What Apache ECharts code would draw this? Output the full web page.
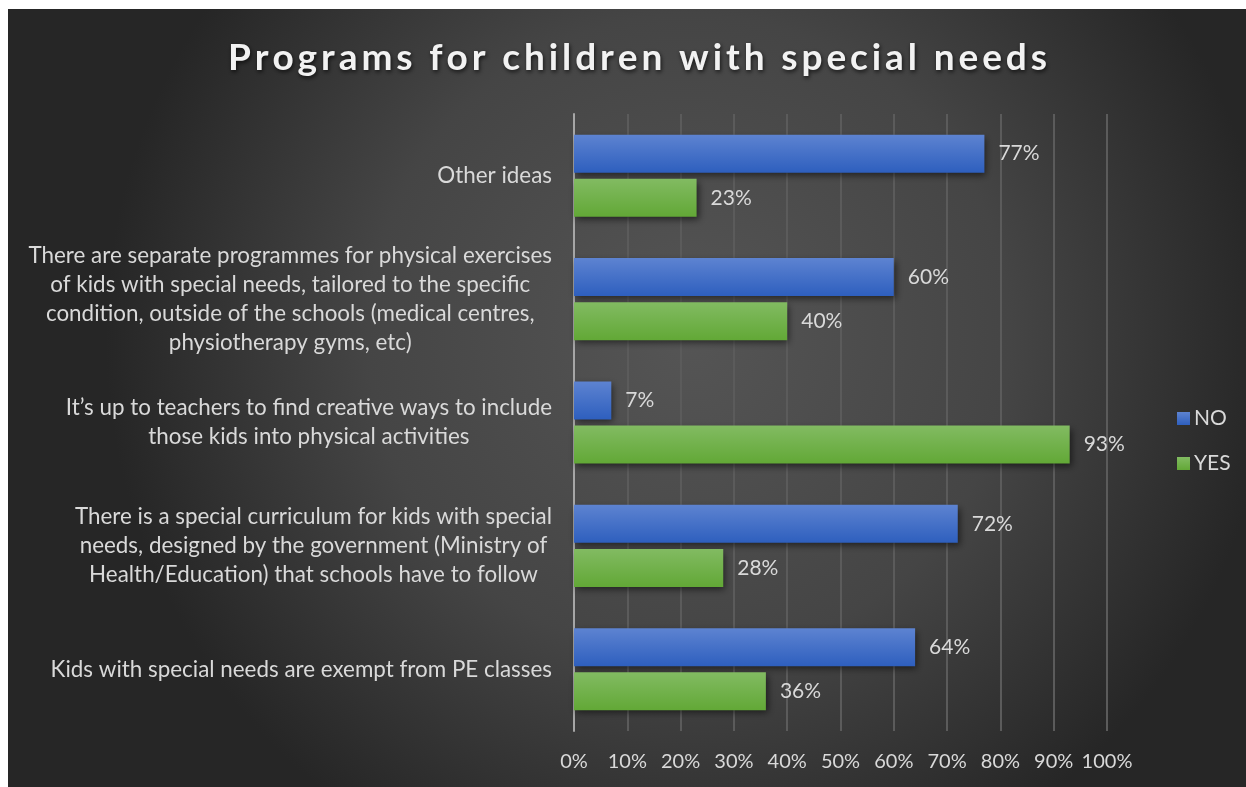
<!DOCTYPE html>
<html>
<head>
<meta charset="utf-8">
<script src="https://cdn.jsdelivr.net/npm/echarts@6/dist/echarts.min.js"></script>
<style>
  html, body { margin: 0; padding: 0; background: #ffffff; }
  #chart { position: absolute; left: 8px; top: 9px; width: 1238px; height: 778px; }
</style>
</head>
<body>
<div id="chart"></div>
<script>
// Survey answers, listed bottom-to-top as drawn on the category axis
const categories = [
  'Kids with special needs are exempt from PE classes',
  'There is a special curriculum for kids with special\nneeds, designed by the government (Ministry of\nHealth/Education) that schools have to follow',
  'It\u2019s up to teachers to find creative ways to include\nthose kids into physical activities',
  'There are separate programmes for physical exercises\nof kids with special needs, tailored to the specific\ncondition, outside of the schools (medical centres,\nphysiotherapy gyms, etc)',
  'Other ideas'
];
const noValues = [64, 72, 7, 60, 77];
const yesValues = [36, 28, 93, 40, 23];
const seriesNames = ['NO', 'YES'];
const chartTitle = 'Programs for children with special needs';

const textColor = '#d9d9d9';
const font = 'Lato, "Open Sans", sans-serif';

function barGradient(top, bottom) {
  return new echarts.graphic.LinearGradient(0, 0, 0, 1, [
    { offset: 0, color: top },
    { offset: 1, color: bottom }
  ]);
}

// Title is spread out letter by letter: each character is its own rich token with side padding
const spacedTitle = Array.from(chartTitle).map(ch => '{t|' + ch + '}').join('');

const labelStyle = {
  show: true,
  position: 'right',
  distance: 14,
  color: textColor,
  fontSize: 21,
  fontFamily: font,
  formatter: p => p.value + '%'
};

const chart = echarts.init(document.getElementById('chart'));
chart.setOption({
  backgroundColor: new echarts.graphic.RadialGradient(0.55, 0.42, 0.75, [
    { offset: 0, color: '#555555' },
    { offset: 0.55, color: '#454545' },
    { offset: 1, color: '#262626' }
  ]),
  title: {
    text: spacedTitle,
    left: 218,
    top: 31,
    padding: 0,
    textStyle: {
      rich: {
        t: {
          color: '#f2f2f2',
          fontSize: 37,
          fontWeight: 'bold',
          fontFamily: font,
          padding: [0, 1.95],
          textShadowColor: 'rgba(0,0,0,0.7)',
          textShadowBlur: 4,
          textShadowOffsetX: 1,
          textShadowOffsetY: 2
        }
      }
    }
  },
  legend: {
    orient: 'vertical',
    left: 1169,
    top: 399,
    padding: 0,
    itemWidth: 13,
    itemHeight: 13,
    itemGap: 24,
    icon: 'rect',
    textStyle: { color: textColor, fontSize: 21, fontFamily: font, padding: [0, 0, 0, -1] },
    data: seriesNames
  },
  grid: { left: 566, right: 139, top: 105, bottom: 56, containLabel: false },
  xAxis: {
    type: 'value',
    min: 0,
    max: 100,
    interval: 10,
    axisLine: { show: false },
    axisTick: { show: false },
    splitLine: { show: true, lineStyle: { color: '#5b5b5b', width: 2 } },
    axisLabel: {
      color: textColor,
      fontSize: 20,
      fontFamily: font,
      margin: 21,
      formatter: v => v + '%'
    }
  },
  yAxis: {
    type: 'category',
    data: categories,
    axisLine: { show: true, lineStyle: { color: '#a6a6a6', width: 2 } },
    axisTick: { show: false },
    axisLabel: {
      margin: 22,
      formatter: v => v.split('\n').map(s => '{c|' + s + '}').join('\n'),
      rich: {
        c: { align: 'center', color: textColor, fontSize: 22.4, fontFamily: font, lineHeight: 29 }
      }
    }
  },
  series: [
    {
      name: seriesNames[0],
      type: 'bar',
      data: noValues,
      barWidth: 38,
      barGap: '16%',
      itemStyle: {
        color: barGradient('#5d83d1', '#2e5fbe'),
        shadowColor: 'rgba(0,0,0,0.55)',
        shadowBlur: 7,
        shadowOffsetX: 2,
        shadowOffsetY: 3
      },
      label: labelStyle
    },
    {
      name: seriesNames[1],
      type: 'bar',
      data: yesValues,
      barWidth: 38,
      itemStyle: {
        color: barGradient('#82bb62', '#62a836'),
        shadowColor: 'rgba(0,0,0,0.55)',
        shadowBlur: 7,
        shadowOffsetX: 2,
        shadowOffsetY: 3
      },
      label: labelStyle
    }
  ]
});
</script>
</body>
</html>
